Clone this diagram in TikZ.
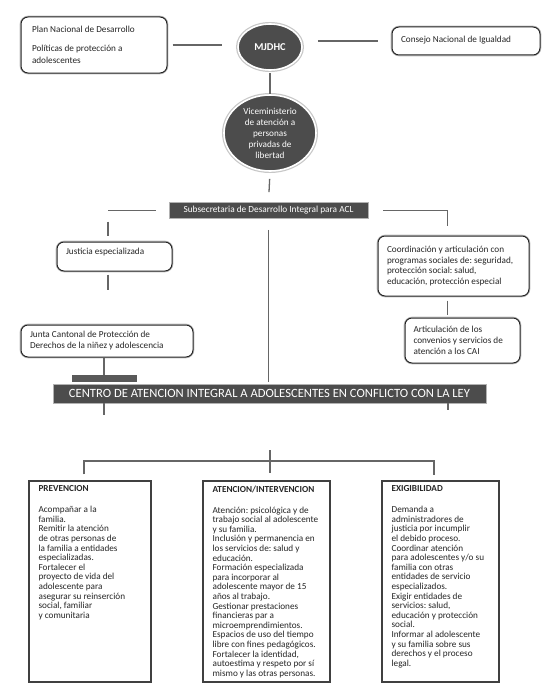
\documentclass[tikz,border=0pt]{standalone}
\usepackage{fontspec}
\setmainfont{Carlito}
\frenchspacing
\usetikzlibrary{shapes.geometric}
\begin{document}
\frenchspacing
\begin{tikzpicture}[x=1pt,y=-1pt,
  conn/.style={draw=black!60, line width=1.3pt},
  txtf/.style={font=\fontsize{9.2}{11}\selectfont\frenchspacing, text=black!85},
  rbox/.style={draw=black!85, line width=1pt, rounded corners=7pt, fill=white, inner sep=0pt, txtf, align=flush left,
               preaction={draw=black!25, line width=2.6pt}},
  ell/.style={ellipse, fill=black!70, draw=white, line width=1.6pt, text=white, inner sep=0pt,
              preaction={draw=black!22, line width=4pt}},
  darkbar/.style={fill=black!70, draw=black!30, line width=0.6pt, text=white, inner sep=0pt},
  colbox/.style={draw=black!75, line width=1.2pt, fill=white, inner sep=0pt, minimum height=201pt},
  coltxt/.style={font=\fontsize{9.2}{9.6}\selectfont\frenchspacing, text=black!85, align=flush left, inner sep=0pt, anchor=north west}
]
\useasboundingbox (0,0) rectangle (557,693);

% top row
\node[rbox, minimum width=146pt, minimum height=56pt, text width=124pt,
      font=\fontsize{9.2}{12}\selectfont\frenchspacing] (plan) at (94,45)
  {Plan Nacional de Desarrollo\\[7pt]Políticas de protección a\\adolescentes};
\node[ell, minimum width=64pt, minimum height=46pt, font=\bfseries\fontsize{10.5}{12}\selectfont] (mjdhc) at (270,47) {MJDHC};
\node[rbox, minimum width=148pt, minimum height=28pt, text width=130pt, text depth=4pt] (consejo) at (466,41)
  {Consejo Nacional de Igualdad};

\node[ell, minimum width=92pt, minimum height=76pt, align=flush center, font=\fontsize{9.2}{11}\selectfont] (vice) at (270,133)
  {Viceministerio\\de atención a\\personas\\privadas de\\libertad};

\node[darkbar, minimum width=199pt, minimum height=16pt, font=\fontsize{9.3}{11}\selectfont] (subsec) at (268.5,210.5)
  {Subsecretaria de Desarrollo Integral para ACL};

% left branch
\node[rbox, minimum width=115pt, minimum height=29pt, text width=97pt, text depth=11pt] (just) at (114.5,256.5)
  {Justicia especializada};
\node[rbox, minimum width=172pt, minimum height=32pt, text width=154pt] (junta) at (107,341)
  {Junta Cantonal de Protección de\\Derechos de la niñez y adolescencia};
\node[fill=black!65, minimum width=65pt, minimum height=7pt, inner sep=0pt] (jbar) at (104,378.5) {};

% right branch
\node[rbox, minimum width=151pt, minimum height=60pt, text width=133pt, font=\fontsize{9.2}{10.7}\selectfont\frenchspacing] (coord) at (453.5,266)
  {Coordinación y articulación con\\programas sociales de: seguridad,\\protección social: salud,\\educación, protección especial};
\node[rbox, minimum width=115pt, minimum height=45pt, text width=98pt] (artic) at (462.5,340.5)
  {Articulación de los\\convenios y servicios de\\atención a los CAI};

% centre bar
\node[darkbar, minimum width=433pt, minimum height=19pt, font=\fontsize{12.6}{14}\selectfont] (centro) at (269.5,393.5)
  {CENTRO DE ATENCION INTEGRAL A ADOLESCENTES EN CONFLICTO CON LA LEY};

% bottom columns
\node[colbox, minimum width=122pt] (prev) at (90,581.5) {};
\node[colbox, minimum width=127pt] (aten) at (266.5,581.5) {};
\node[colbox, minimum width=117pt] (exig) at (440.5,581.5) {};

\node[coltxt] (prevT) at ([shift={(10,5)}]prev.north west)
  {\textbf{PREVENCION}\\[11.4pt]
   Acompañar a la\\familia.\\Remitir la atención\\de otras personas de\\la familia a entidades\\especializadas.\\
   Fortalecer el\\proyecto de vida del\\adolescente para\\asegurar su reinserción\\social, familiar\\y comunitaria};
\node[coltxt] (atenT) at ([shift={(10,5)}]aten.north west)
  {\textbf{ATENCION/INTERVENCION}\\[11.4pt]
   Atención: psicológica y de\\trabajo social al adolescente\\y su familia.\\Inclusión y permanencia en\\
   los servicios de: salud y\\educación.\\Formación especializada\\para incorporar al\\
   adolescente mayor de 15\\años al trabajo.\\Gestionar prestaciones\\financieras par a\\
   microemprendimientos.\\Espacios de uso del tiempo\\libre con fines pedagógicos.\\
   Fortalecer la identidad,\\autoestima y respeto por sí\\mismo y las otras personas.};
\node[coltxt] (exigT) at ([shift={(10,5)}]exig.north west)
  {\textbf{EXIGIBILIDAD}\\[11.4pt]
   Demanda a\\administradores de\\justicia por incumplir\\el debido proceso.\\Coordinar atención\\
   para adolescentes y/o su\\familia con otras\\entidades de servicio\\especializados.\\
   Exigir entidades de\\servicios: salud,\\educación y protección\\social.\\
   Informar al adolescente\\y su familia sobre sus\\derechos y el proceso\\legal.};

% helper coordinates
\coordinate (lc) at (108,210.5);
\coordinate (rx) at (447.5,0);
\coordinate (sL) at (104,415);
\coordinate (sR) at (448,410);
\coordinate (ttop) at (270,450);
\coordinate (bl) at (84,461);
\coordinate (br) at (434,461);

% connectors
\draw[conn, shorten <=5pt, shorten >=15pt] (plan.east) -- (plan.east -| mjdhc.west);
\draw[conn, shorten <=15pt, shorten >=14pt] (consejo.west -| mjdhc.east) -- (consejo.west);
\draw[conn, shorten <=2pt] (mjdhc.south) -- (vice.north);
\draw[conn, shorten <=7pt, shorten >=10pt] (vice.south) -- (subsec.north);
\draw[conn, shorten <=13pt] (subsec.west) -- (lc);
\draw[conn, shorten <=11pt, shorten >=6pt] (lc) -- (lc |- just.north);
\draw[conn, shorten <=3pt, shorten >=35pt] (lc |- just.south) -- (lc |- junta.north);
\draw[conn] (jbar.north |- junta.south) -- (jbar.north);
\draw[conn, shorten <=11pt, shorten >=2pt] (subsec.south) -- (subsec.south |- centro.north);
\draw[conn, shorten <=15pt, shorten >=10pt] (subsec.east) -- (subsec.east -| rx) -- (rx |- coord.north);
\draw[conn, shorten <=4pt, shorten >=3pt] (rx |- coord.south) -- (rx |- artic.north);
\draw[conn] (sL |- centro.south) -- (sL);
\draw[conn] (sR |- centro.south) -- (sR);
\draw[conn, shorten >=7pt] (ttop) -- (ttop |- aten.north);
\draw[conn, shorten <=6pt, shorten >=5pt] (bl |- prev.north) -- (bl) -- (br) -- (br |- exig.north);
\end{tikzpicture}
\end{document}
